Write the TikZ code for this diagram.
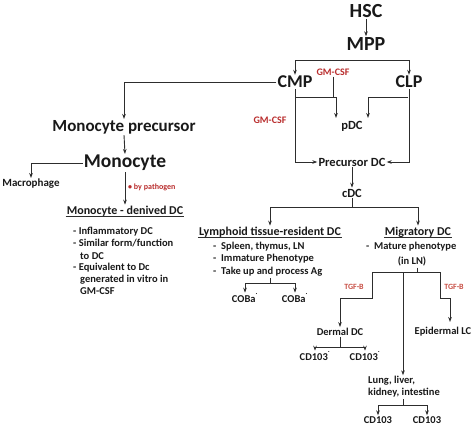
\documentclass[tikz,border=0pt]{standalone}
\usepackage{fontspec}
\setmainfont{Carlito}
\usetikzlibrary{arrows.meta}
\definecolor{ink}{RGB}{25,25,25}
\definecolor{ln}{RGB}{45,45,45}
\definecolor{redlab}{RGB}{185,45,45}
\definecolor{redlite}{RGB}{200,80,70}
\newcommand{\sdot}{\textsuperscript{\raisebox{0.9ex}{.}}}
\begin{document}
\begin{tikzpicture}[x=1pt,y=-1pt,
  every node/.style={inner sep=1pt,text=ink,font=\bfseries},
  big/.style={font=\fontsize{20}{22}\selectfont\bfseries},
  mid/.style={font=\fontsize{18}{20}\selectfont\bfseries},
  med/.style={font=\fontsize{12}{14}\selectfont\bfseries},
  dcl/.style={font=\fontsize{12.5}{14}\selectfont\bfseries},
  sml/.style={font=\fontsize{10.5}{12}\selectfont\bfseries},
  tiny/.style={font=\fontsize{10.5}{12}\selectfont\bfseries},
  redtag/.style={text=redlab,font=\fontsize{10}{11}\selectfont\bfseries},
  tgf/.style={text=redlite,font=\fontsize{8}{9}\selectfont\bfseries},
  item/.style={anchor=mid west,font=\fontsize{10.5}{12}\selectfont\bfseries},
  conn/.style={draw=ln,line width=0.9pt},
  arr/.style={conn,-{Stealth[length=5pt,width=3.6pt]}}]
\useasboundingbox (0,0) rectangle (474,429);
% top chain
\node[big] (hsc) at (366,11) {HSC};
\node[big] (mpp) at (366,44) {MPP};
\node[mid] (cmp) at (295,82) {CMP};
\node[mid] (clp) at (409,82) {CLP};
\coordinate (j1) at (366,60);
\draw[arr] (hsc.south) -- (mpp.north);
\draw[arr] (j1) -| (cmp.north);
\draw[arr] (j1) -| (clp.north);
% monocyte branch
\node[font=\fontsize{17}{19}\selectfont\bfseries] (mprec) at (124,127) {Monocyte precursor};
\node[font=\fontsize{19.5}{21}\selectfont\bfseries] (mono) at (125,163) {Monocyte};
\node[font=\fontsize{11}{12}\selectfont\bfseries] (macro) at (31,184) {Macrophage};
\node[text=redlab,font=\fontsize{8}{9}\selectfont\bfseries,anchor=mid west] (patho) at (127,187) {\textbullet\ by pathogen};
\node[med] (mdc) at (125,211) {Monocyte - denived DC};
\draw[conn] ([yshift=0.5pt]mdc.south west) -- ([yshift=0.5pt]mdc.south east);
\draw[arr] (cmp.west) -| (mprec.north);
\draw[arr] (mprec.south) -- (mono.north);
\draw[arr] (mono.west) -| (macro.north);
\draw[arr] (mono.south) -- (mdc.north);
\node[item] (m1) at (72,232) {- Inflammatory DC};
\node[item] (m2) at (72,244) {- Similar form/function};
\node[item] (m3) at (79,257) {to DC};
\node[item] (m4) at (72,268) {- Equivalent to Dc};
\node[item] (m5) at (79,280) {generated in vitro in};
\node[item] (m6) at (79,292) {GM-CSF};
% DC branch
\node[dcl] (pdc) at (352,126) {pDC};
\node[dcl] (pre) at (352,162) {Precursor DC};
\node[dcl] (cdc) at (352,193) {cDC};
\node[redtag] (gm1) at (333,72) {GM-CSF};
\node[redtag] (gm2) at (270,120) {GM-CSF};
\coordinate (c1) at (296,97);
\coordinate (c2) at (408,97);
\coordinate (pa) at (336,118);
\coordinate (pb) at (368,118);
\draw[arr] (cmp.south) |- (pre.west);
\draw[arr] (clp.south) |- (pre.east);
\draw[arr] (c1) -| (pa);
\draw[arr] (c2) -| (pb);
\draw[conn] (gm1.south) -- (gm1.south |- c1);
\draw[arr] (pre.south) -- (cdc.north);
\node[med] (lym) at (270,232) {Lymphoid tissue-resident DC};
\node[med] (mig) at (418,232) {Migratory DC};
\draw[conn] ([yshift=0.5pt]lym.south west) -- ([yshift=0.5pt]lym.south east);
\draw[conn] ([yshift=0.5pt]mig.south west) -- ([yshift=0.5pt]mig.south east);
\coordinate (j2) at (352,207);
\draw[conn] (cdc.south) -- (j2);
\draw[arr] (j2) -| (lym.north);
\draw[arr] (j2) -| (mig.north);
% lymphoid items
\node[item] (l1) at (212,247) {- \ Spleen, thymus, LN};
\node[item] (l2) at (212,259) {- \ Immature Phenotype};
\node[item] (l3) at (212,272) {- \ Take up and process Ag};
\node[tiny] (co1) at (245,298) {COBa\sdot};
\node[tiny] (co2) at (295,298) {COBa\sdot};
\coordinate (j3) at (270,283);
\draw[conn] (270,278) -- (j3);
\draw[arr] (j3) -| (co1.north);
\draw[arr] (j3) -| (co2.north);
% migratory
\node[item] (g1) at (365,247) {- \ Mature phenotype};
\node[sml] (inln) at (412,261) {(in LN)};
\coordinate (j4) at (417,272);
\coordinate (jl) at (372,272);
\coordinate (jr) at (440,272);
\coordinate (jm) at (403,272);
\draw[conn] (417,267.5) -- (j4);
\draw[conn] (jl) -- (jr);
\node[sml] (derm) at (340,332) {Dermal DC};
\node[sml] (epi) at (443,332) {Epidermal LC};
\coordinate (ea) at (450,322);
\draw[arr] (jl) -- (372,298) -| (derm.north);
\draw[arr] (jr) -- (440,298) -| (ea);
\node[tgf] (t1) at (354,287) {TGF-B};
\node[tgf] (t2) at (454,287) {TGF-B};
\node[tiny] (cd1) at (315,356) {CD103\sdot};
\node[tiny] (cd2) at (365,356) {CD103\sdot};
\coordinate (j5) at (340,347);
\draw[conn] (derm.south) -- (j5);
\draw[arr] (j5) -| (cd1.north);
\draw[arr] (j5) -| (cd2.north);
\node[sml,align=left] (lung) at (404,387) {Lung, liver,\\kidney, intestine};
\draw[arr] (jm) -- (jm |- lung.north);
\node[tiny] (cd3) at (378,420) {CD103};
\node[tiny] (cd4) at (427,420) {CD103};
\coordinate (j6) at (403,405);
\draw[conn] (403,399) -- (j6);
\draw[arr] (j6) -| (cd3.north);
\draw[arr] (j6) -| (cd4.north);
\end{tikzpicture}
\end{document}
